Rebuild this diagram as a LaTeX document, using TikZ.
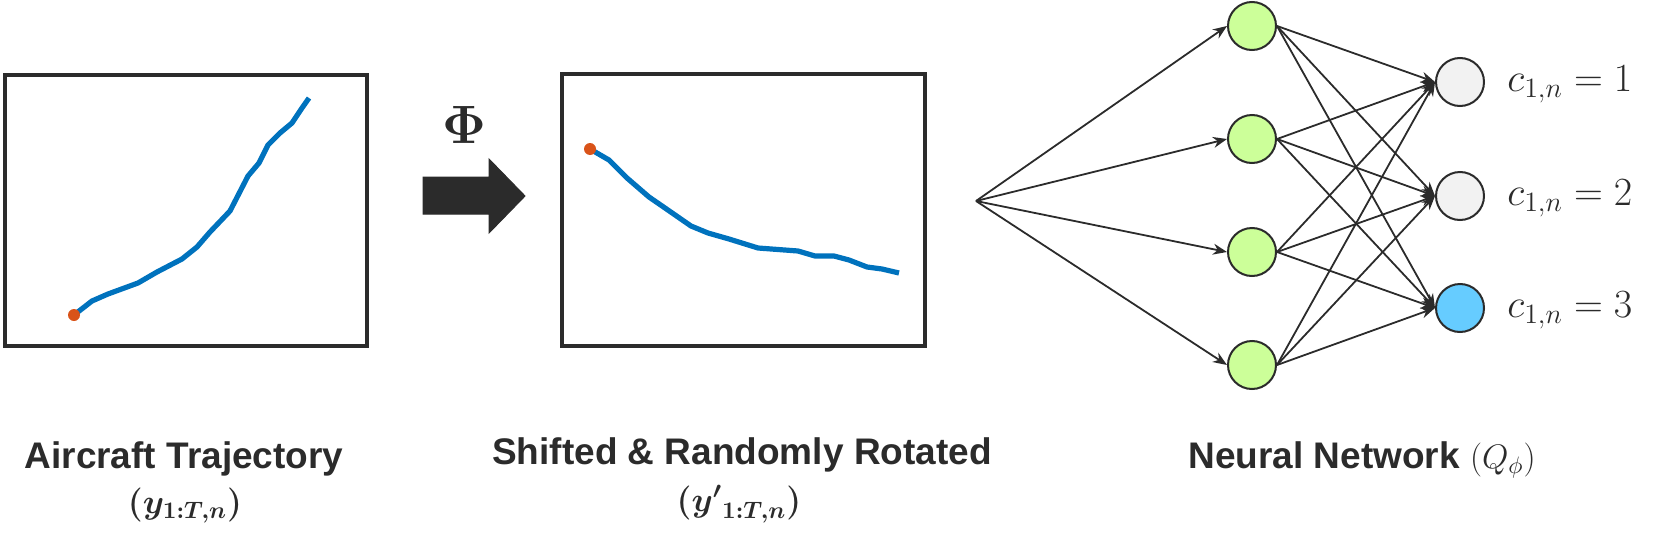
\documentclass[tikz,border=0pt]{standalone}
\usepackage{fix-cm}
\usepackage{bm}
\usepackage{fontspec}
\newfontfamily\lsans{Liberation Sans}
\usetikzlibrary{arrows.meta}
\definecolor{ink}{HTML}{2B2B2B}
\definecolor{trajblue}{HTML}{0072BD}
\definecolor{trajorange}{HTML}{D95319}
\definecolor{hidgreen}{HTML}{CCFF99}
\definecolor{outgray}{HTML}{F2F2F2}
\definecolor{outblue}{HTML}{66CCFF}
\newcommand\phisize{\fontsize{27}{30}\selectfont}
\newcommand\capsize{\fontsize{18.5}{22}\selectfont}
\newcommand\mcapsize{\fontsize{17}{20}\selectfont}
\newcommand\outsize{\fontsize{20}{23}\selectfont}
\begin{document}
\begin{tikzpicture}[x=0.5pt,y=-0.5pt,
  plotbox/.style={draw=ink,line width=2pt},
  traj/.style={draw=trajblue,line width=2.6pt,line join=round},
  startdot/.style={fill=trajorange},
  neuron/.style={circle,draw=ink,line width=1pt,minimum size=24pt,inner sep=0pt},
  hidden/.style={neuron,fill=hidgreen},
  outplain/.style={neuron,fill=outgray},
  outhot/.style={neuron,fill=outblue},
  conn/.style={draw=ink,line width=0.9pt,-{Stealth[length=7pt,width=5.5pt]}},
  caption/.style={font=\lsans\bfseries\capsize,text=ink,anchor=base,inner sep=0pt},
  mathcap/.style={font=\mcapsize,text=ink,anchor=base,inner sep=0pt},
  outlabel/.style={font=\outsize,text=ink,anchor=base west,inner sep=0pt},
  philabel/.style={font=\phisize,text=ink,inner sep=0pt},
  blockarrow/.style={fill=ink,draw=ink,line width=0.5pt}
]
\useasboundingbox (0,0) rectangle (1654,546);

% plot 1
\draw[plotbox] (5,75) rectangle (367,346);
\draw[traj] (74,315) -- (92,301) -- (108,294) -- (138,283) -- (157,272) -- (182,259)
  -- (197,247) -- (210,232) -- (230,211) -- (248,176) -- (259,163) -- (268,145)
  -- (280,133) -- (292,123) -- (302,108) -- (309,98);
\fill[startdot] (74,315) circle[radius=3pt];

% transformation arrow
\node[philabel] (phisym) at (464,125) {$\bm{\Phi}$};
\filldraw[blockarrow] (423,177) -- (489,177) -- (489,159) -- (525,196) -- (489,233)
  -- (489,214) -- (423,214) -- cycle;

% plot 2
\draw[plotbox] (562,74) rectangle (925,346);
\draw[traj] (590,149) -- (609,160) -- (627,178) -- (649,197) -- (665,208) -- (691,226)
  -- (708,233) -- (729,239) -- (758,248) -- (798,251) -- (815,256) -- (834,256)
  -- (849,260) -- (867,267) -- (882,269) -- (899,273);
\fill[startdot] (590,149) circle[radius=3pt];

% neural network
\coordinate (in) at (976,201);
\node[hidden] (h1) at (1252,26) {};
\node[hidden] (h2) at (1252,139) {};
\node[hidden] (h3) at (1252,252) {};
\node[hidden] (h4) at (1252,365) {};
\node[outplain] (o1) at (1460,82) {};
\node[outplain] (o2) at (1460,196) {};
\node[outhot] (o3) at (1460,308) {};
\foreach \h in {1,...,4} \draw[conn] (in) -- (h\h.west);
\foreach \h in {1,...,4} {\foreach \o in {1,2,3} {\draw[conn] (h\h.east) -- (o\o.west);}}

\node[outlabel] (l1) at (1507,91) {$c_{1,n}=1$};
\node[outlabel] (l2) at (1507,205) {$c_{1,n}=2$};
\node[outlabel] (l3) at (1507,317) {$c_{1,n}=3$};

% captions
\node[caption] (cap1) at (184,468) {Aircraft Trajectory};
\node[mathcap] (cap1m) at (185,513) {$\bm{(y_{1:T,n})}$};
\node[caption] (cap2) at (742,464) {Shifted \& Randomly Rotated};
\node[mathcap] (cap2m) at (739,511) {$\bm{({y'}_{1:T,n})}$};
\node[caption] (cap3) at (1362,468) {Neural Network {\mdseries\mcapsize$(Q_\phi)$}};
\end{tikzpicture}
\end{document}
